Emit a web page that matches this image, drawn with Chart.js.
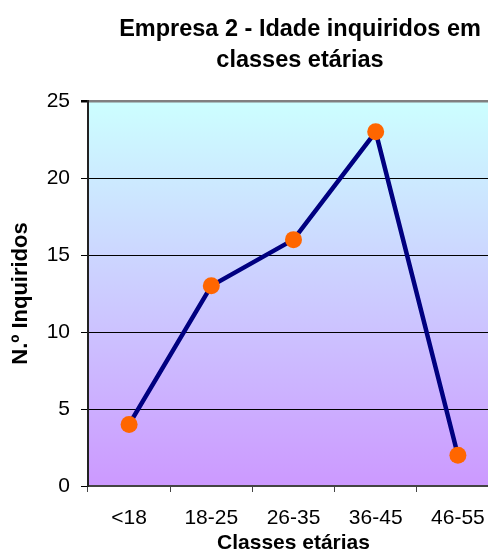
<!DOCTYPE html>
<html>
<head>
<meta charset="utf-8">
<script src="https://cdn.jsdelivr.net/npm/chart.js@4/dist/chart.umd.min.js"></script>
<style>
  html, body { margin: 0; padding: 0; background: #fff; overflow: hidden; }
  #wrap { width: 600px; height: 554px; }
</style>
</head>
<body>
<div id="wrap"><canvas id="ageChart" width="600" height="554"></canvas></div>
<script>
// Age classes and number of respondents
const classes = ['<18', '18-25', '26-35', '36-45', '46-55'];
const respondents = [4, 13, 16, 23, 2];
const titleLines = ['Empresa 2 - Idade inquiridos em', 'classes etárias'];
const yTitle = 'N.º Inquiridos';
const xTitle = 'Classes etárias';

// Plot area gradient, light cyan on top to lilac at the bottom
const plotBackground = {
    id: 'plotBackground',
    beforeDraw(chart) {
        const { ctx, chartArea: a } = chart;
        const g = ctx.createLinearGradient(0, a.top, 0, a.bottom);
        g.addColorStop(0, '#ccffff');
        g.addColorStop(0.5, '#ccccff');
        g.addColorStop(1, '#cc99ff');
        ctx.save();
        ctx.fillStyle = g;
        ctx.fillRect(a.left, a.top, a.right - a.left, a.bottom - a.top);
        ctx.restore();
    }
};

const font = 'Arial, "Liberation Sans", sans-serif';

new Chart(document.getElementById('ageChart'), {
    type: 'line',
    data: {
        labels: classes,
        datasets: [{
            data: respondents,
            borderColor: '#000080',
            borderWidth: 4.5,
            tension: 0,
            pointRadius: 8.5,
            pointBorderWidth: 0,
            pointBackgroundColor: '#ff6600',
            pointBorderColor: '#ff6600'
        }]
    },
    options: {
        responsive: false,
        animation: false,
        layout: { padding: 0 },
        plugins: {
            legend: { display: false },
            tooltip: { enabled: false },
            title: {
                display: true,
                text: titleLines,
                color: '#000',
                font: { family: font, size: 23.5, weight: 'bold', lineHeight: 1.32 },
                padding: { top: 14, bottom: 25 }
            }
        },
        scales: {
            x: {
                offset: true,
                grid: {
                    offset: true,
                    drawOnChartArea: false,
                    tickLength: 6,
                    color: '#444'
                },
                border: { color: '#444', width: 2 },
                ticks: {
                    color: '#000',
                    padding: 14,
                    font: { family: font, size: 21 }
                },
                title: {
                    display: true,
                    text: xTitle,
                    color: '#000',
                    font: { family: font, size: 21, weight: 'bold', lineHeight: 1 },
                    padding: 0
                },
                afterFit(scale) { scale.height = 68; }
            },
            y: {
                min: 0,
                max: 25,
                ticks: {
                    stepSize: 5,
                    color: '#000',
                    padding: 11,
                    font: { family: font, size: 21 }
                },
                grid: {
                    tickLength: 7,
                    tickColor: '#000',
                    color: ctx => ctx.tick && ctx.tick.value === 25 ? '#808080' : '#000',
                    lineWidth: ctx => ctx.tick && ctx.tick.value === 25 ? 2.5 : 1
                },
                border: { color: '#222', width: 2 },
                title: {
                    display: true,
                    text: yTitle,
                    color: '#000',
                    font: { family: font, size: 22, weight: 'bold', lineHeight: 1.2 },
                    padding: { top: 8, bottom: 0 }
                },
                afterFit(scale) { scale.width = 88; }
            },
            // empty strip on the right, past the visible page
            spacer: {
                position: 'right',
                display: true,
                grid: { display: false },
                border: { display: false },
                ticks: { display: false },
                afterFit(scale) { scale.width = 101; }
            }
        }
    },
    plugins: [plotBackground]
});
</script>
</body>
</html>
